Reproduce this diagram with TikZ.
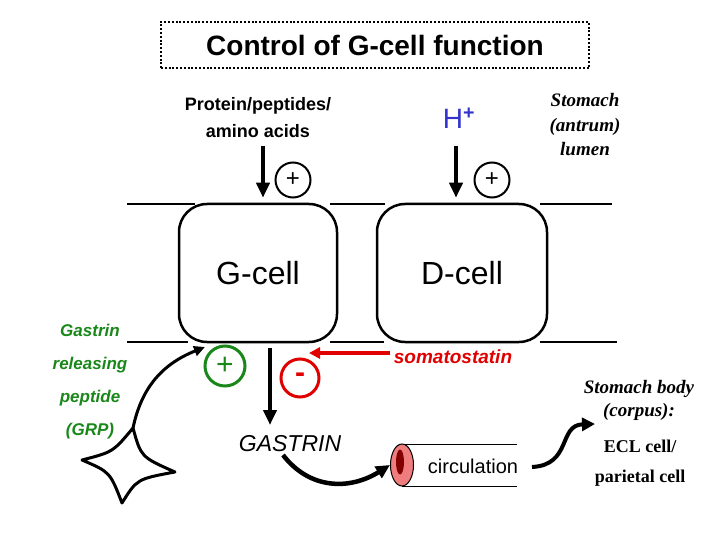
\documentclass[tikz,border=0pt]{standalone}
\usepackage{fontspec}
\setmainfont{Liberation Sans}
\newfontfamily\timesfont{Liberation Serif}
\usetikzlibrary{arrows.meta,shapes.geometric}
\definecolor{hblue}{RGB}{51,51,204}
\definecolor{grpgreen}{RGB}{25,135,25}
\definecolor{ssred}{RGB}{225,0,0}
\definecolor{bloodpink}{RGB}{240,125,125}
\definecolor{blooddark}{RGB}{130,0,0}
\newcommand{\fsz}[2]{\fontsize{#1}{#2}\selectfont}
\tikzset{
  membrane/.style={line width=2.5pt},
  title-box/.style={
    draw,
    line width=2.6pt,
    dash pattern=on 2pt off 1.8pt,
    minimum width=428pt,
    minimum height=46pt,
    font=\bfseries\fsz{28}{28}
  },
  cell-box/.style={
    draw,
    line width=2.5pt,
    rounded corners=28pt,
    minimum height=138pt,
    inner sep=0pt,
    font=\fsz{32}{32}
  },
  arrow-big/.style={line width=4.5pt, -{Triangle[length=15pt,width=13pt]}},
  arrow-red/.style={ssred, line width=4pt, -{Triangle[length=11pt,width=11pt]}},
  curve-thin/.style={line width=3pt, -{Triangle[length=11pt,width=10pt]}},
  curve-thick/.style={line width=4.5pt, -{Triangle[length=14pt,width=13pt]}},
  plus-circle/.style={circle, draw, line width=2pt, minimum size=35pt, inner sep=0pt, font=\fsz{24}{24}},
  sign-circle/.style={circle, line width=3pt, minimum size=40pt, inner sep=0pt, font=\fsz{30}{30}},
  serif-text/.style={font=\timesfont\bfseries\itshape\fsz{19}{24.5}, align=center}
}
\begin{document}
\begin{tikzpicture}[x=1pt, y=-1pt]
  \useasboundingbox (0,0) rectangle (720,540);
  % Title
  \node[title-box] (title) at (375,45) {Control of G-cell function};
  % Cells and membrane
  \node[cell-box, minimum width=158pt] (gcell) at (258,273) {G-cell};
  \node[cell-box, minimum width=170pt] (dcell) at (462,273) {D-cell};
  \draw[membrane] (127,204) -- (195,204) (330,204) -- (385,204) (540,204) -- (612,204);
  \draw[membrane] (127,342) -- (188,342) (330,342) -- (384,342) (540,342) -- (617,342);
  % Lumen side
  \node[font=\bfseries\fsz{18}{27}, align=center] (protein) at (258,118) {Protein/peptides/\\amino acids};
  \node[text=hblue, font=\fsz{28}{28}] (hion) at (459,118) {H\textsuperscript{\bfseries +}};
  \node[serif-text] (lumen) at (585,125) {Stomach\\(antrum)\\lumen};
  \coordinate (protein-in) at (263,146);
  \coordinate (hion-in) at (456,146);
  \draw[arrow-big, shorten >=5pt] (protein-in) -- (protein-in |- gcell.north);
  \draw[arrow-big, shorten >=5pt] (hion-in) -- (hion-in |- dcell.north);
  \node[plus-circle] (gplus) at (293,180) {+};
  \node[plus-circle] (dplus) at (492,180) {+};
  % Blood side
  \node[font=\bfseries\itshape\fsz{17}{33}, text=grpgreen, align=center] (grp) at (90,382) {Gastrin\\releasing\\peptide\\(GRP)};
  \node[sign-circle, draw=grpgreen, text=grpgreen] (grpplus) at (225,366) {+};
  \node[sign-circle, draw=ssred, text=ssred, minimum size=38pt, font=\bfseries\fsz{30}{30}] (ssminus) at (300,378) {-};
  \node[font=\itshape\fsz{23}{23}] (gastrin) at (290,444) {GASTRIN};
  \node[text=ssred, font=\bfseries\itshape\fsz{19}{19}] (somato) at (453,357) {somatostatin};
  \coordinate (gastrin-out) at (270,348);
  \coordinate (gastrin-tip) at (270,425);
  \draw[arrow-big] (gastrin-out) -- (gastrin-tip);
  \coordinate (ss-tip) at (309,353);
  \draw[arrow-red] (somato.west |- ss-tip) -- (ss-tip);
  % Star cell
  \coordinate (star-t) at (133,428);
  \coordinate (star-r) at (175,472);
  \coordinate (star-b) at (122,503);
  \coordinate (star-l) at (82,460);
  \draw[line width=3pt, line join=round]
    (star-l) .. controls (113,452) .. (star-t)
    .. controls (141,457) .. (star-r)
    .. controls (137,479) .. (star-b)
    .. controls (110,472) .. (star-l) -- cycle;
  \coordinate (grp-tip) at (205,347);
  \draw[curve-thin] (star-t) .. controls (141,390) and (160,365) .. (grp-tip);
  % Circulation
  \draw[line width=1pt] (402,444) -- (517,444) (402,486) -- (517,486);
  \node[ellipse, draw, line width=1pt, fill=bloodpink, minimum width=23pt, minimum height=42pt, inner sep=0pt] (vessel) at (402,465) {};
  \node[ellipse, fill=blooddark, minimum width=8pt, minimum height=25pt, inner sep=0pt] (vessel-core) at (400,462) {};
  \node[font=\fsz{20}{20}] (circ) at (473,466) {circulation};
  \coordinate (gastrin-low) at (283,455);
  \draw[curve-thick] (gastrin-low) .. controls (310,490) and (350,490) .. (vessel.west);
  \node[serif-text, font=\timesfont\bfseries\itshape\fsz{19}{23}] (corpus) at (639,400) {Stomach body\\(corpus):};
  \node[font=\timesfont\bfseries\fsz{18}{30}, align=center] (ecl) at (640,463) {ECL cell/\\parietal cell};
  \coordinate (circ-out) at (532,467);
  \coordinate (ecl-tip) at (595,424);
  \draw[line width=4pt, -{Triangle[length=13pt,width=13pt]}] (circ-out) .. controls (572,465) and (558,425) .. (ecl-tip);
\end{tikzpicture}
\end{document}
